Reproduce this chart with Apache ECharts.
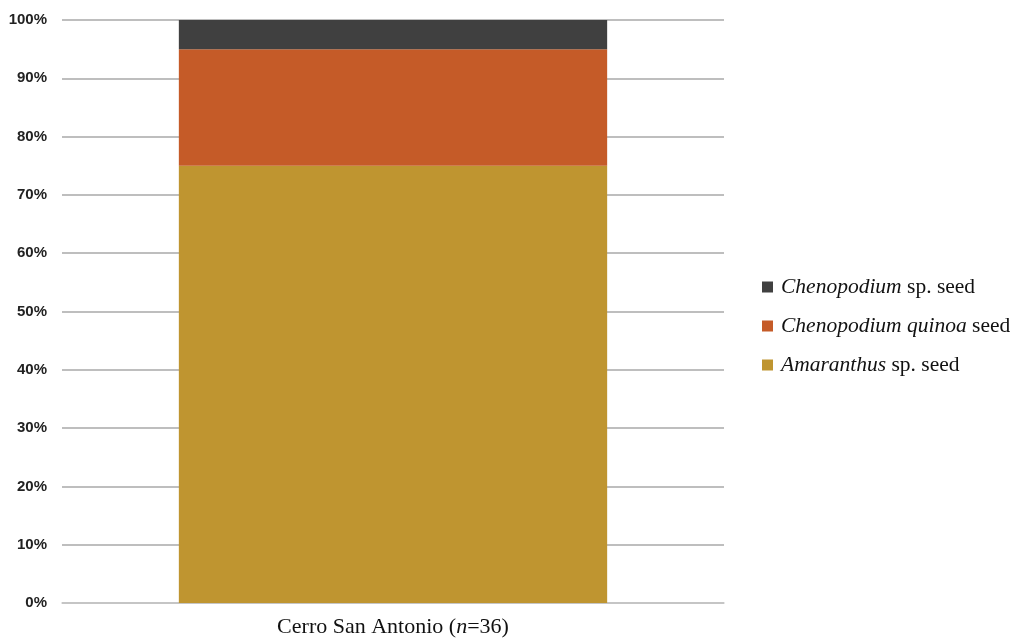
<!DOCTYPE html>
<html><head><meta charset="utf-8">
<script src="https://cdn.jsdelivr.net/npm/echarts@6/dist/echarts.min.js"></script>
<style>html,body{margin:0;padding:0;background:#fff}#c{width:1018px;height:639px}</style>
</head><body><div id="c"></div>
<script>
const categories = ['Cerro San Antonio (n=36)'];
const amaranthus = [75];
const quinoa = [20];
const chenoSp = [5];
const seriesNames = ['Amaranthus sp. seed', 'Chenopodium quinoa seed', 'Chenopodium sp. seed'];
const legendOrder = ['Chenopodium sp. seed', 'Chenopodium quinoa seed', 'Amaranthus sp. seed'];

const chart = echarts.init(document.getElementById('c'));
const serif = '"Liberation Serif", "DejaVu Serif", serif';
chart.setOption({
  animation: false,
  grid: { left: 62, right: 294, top: 20, bottom: 36 },
  legend: {
    orient: 'vertical', left: 762, top: 276, padding: 0,
    data: legendOrder,
    icon: 'rect', itemWidth: 11, itemHeight: 11, itemGap: 17,
    textStyle: {
      fontFamily: serif, fontSize: 21.5, color: '#111', padding: [0, 0, 0, 3],
      rich: { i: { fontFamily: serif, fontSize: 21.5, fontStyle: 'italic', color: '#111' } }
    },
    formatter: function (name) {
      if (name === 'Chenopodium sp. seed') return '{i|Chenopodium} sp. seed';
      if (name === 'Chenopodium quinoa seed') return '{i|Chenopodium quinoa} seed';
      return '{i|Amaranthus} sp. seed';
    }
  },
  xAxis: {
    type: 'category', data: categories,
    axisLine: { show: true, lineStyle: { color: '#c8c8c8', width: 1.5 } },
    axisTick: { show: false },
    axisLabel: {
      margin: 13, fontFamily: serif, fontSize: 22, color: '#111',
      rich: { i: { fontFamily: serif, fontSize: 22, fontStyle: 'italic', color: '#111' } },
      formatter: function (v) { return v.replace('(n=', '({i|n}='); }
    }
  },
  yAxis: {
    type: 'value', min: 0, max: 100, interval: 10,
    axisLine: { show: false }, axisTick: { show: false },
    axisLabel: { formatter: '{value}%', fontFamily: '"Liberation Sans", Arial, sans-serif', fontWeight: 'bold', fontSize: 15, color: '#222', margin: 15 },
    splitLine: { lineStyle: { color: '#a8a8a8', width: 1.5 } }
  },
  series: [
    { name: seriesNames[0], type: 'bar', stack: 's', data: amaranthus, barWidth: '64.7%', itemStyle: { color: '#BF9530' } },
    { name: seriesNames[1], type: 'bar', stack: 's', data: quinoa, itemStyle: { color: '#C55B28' } },
    { name: seriesNames[2], type: 'bar', stack: 's', data: chenoSp, itemStyle: { color: '#404040' } }
  ]
});
</script></body></html>
